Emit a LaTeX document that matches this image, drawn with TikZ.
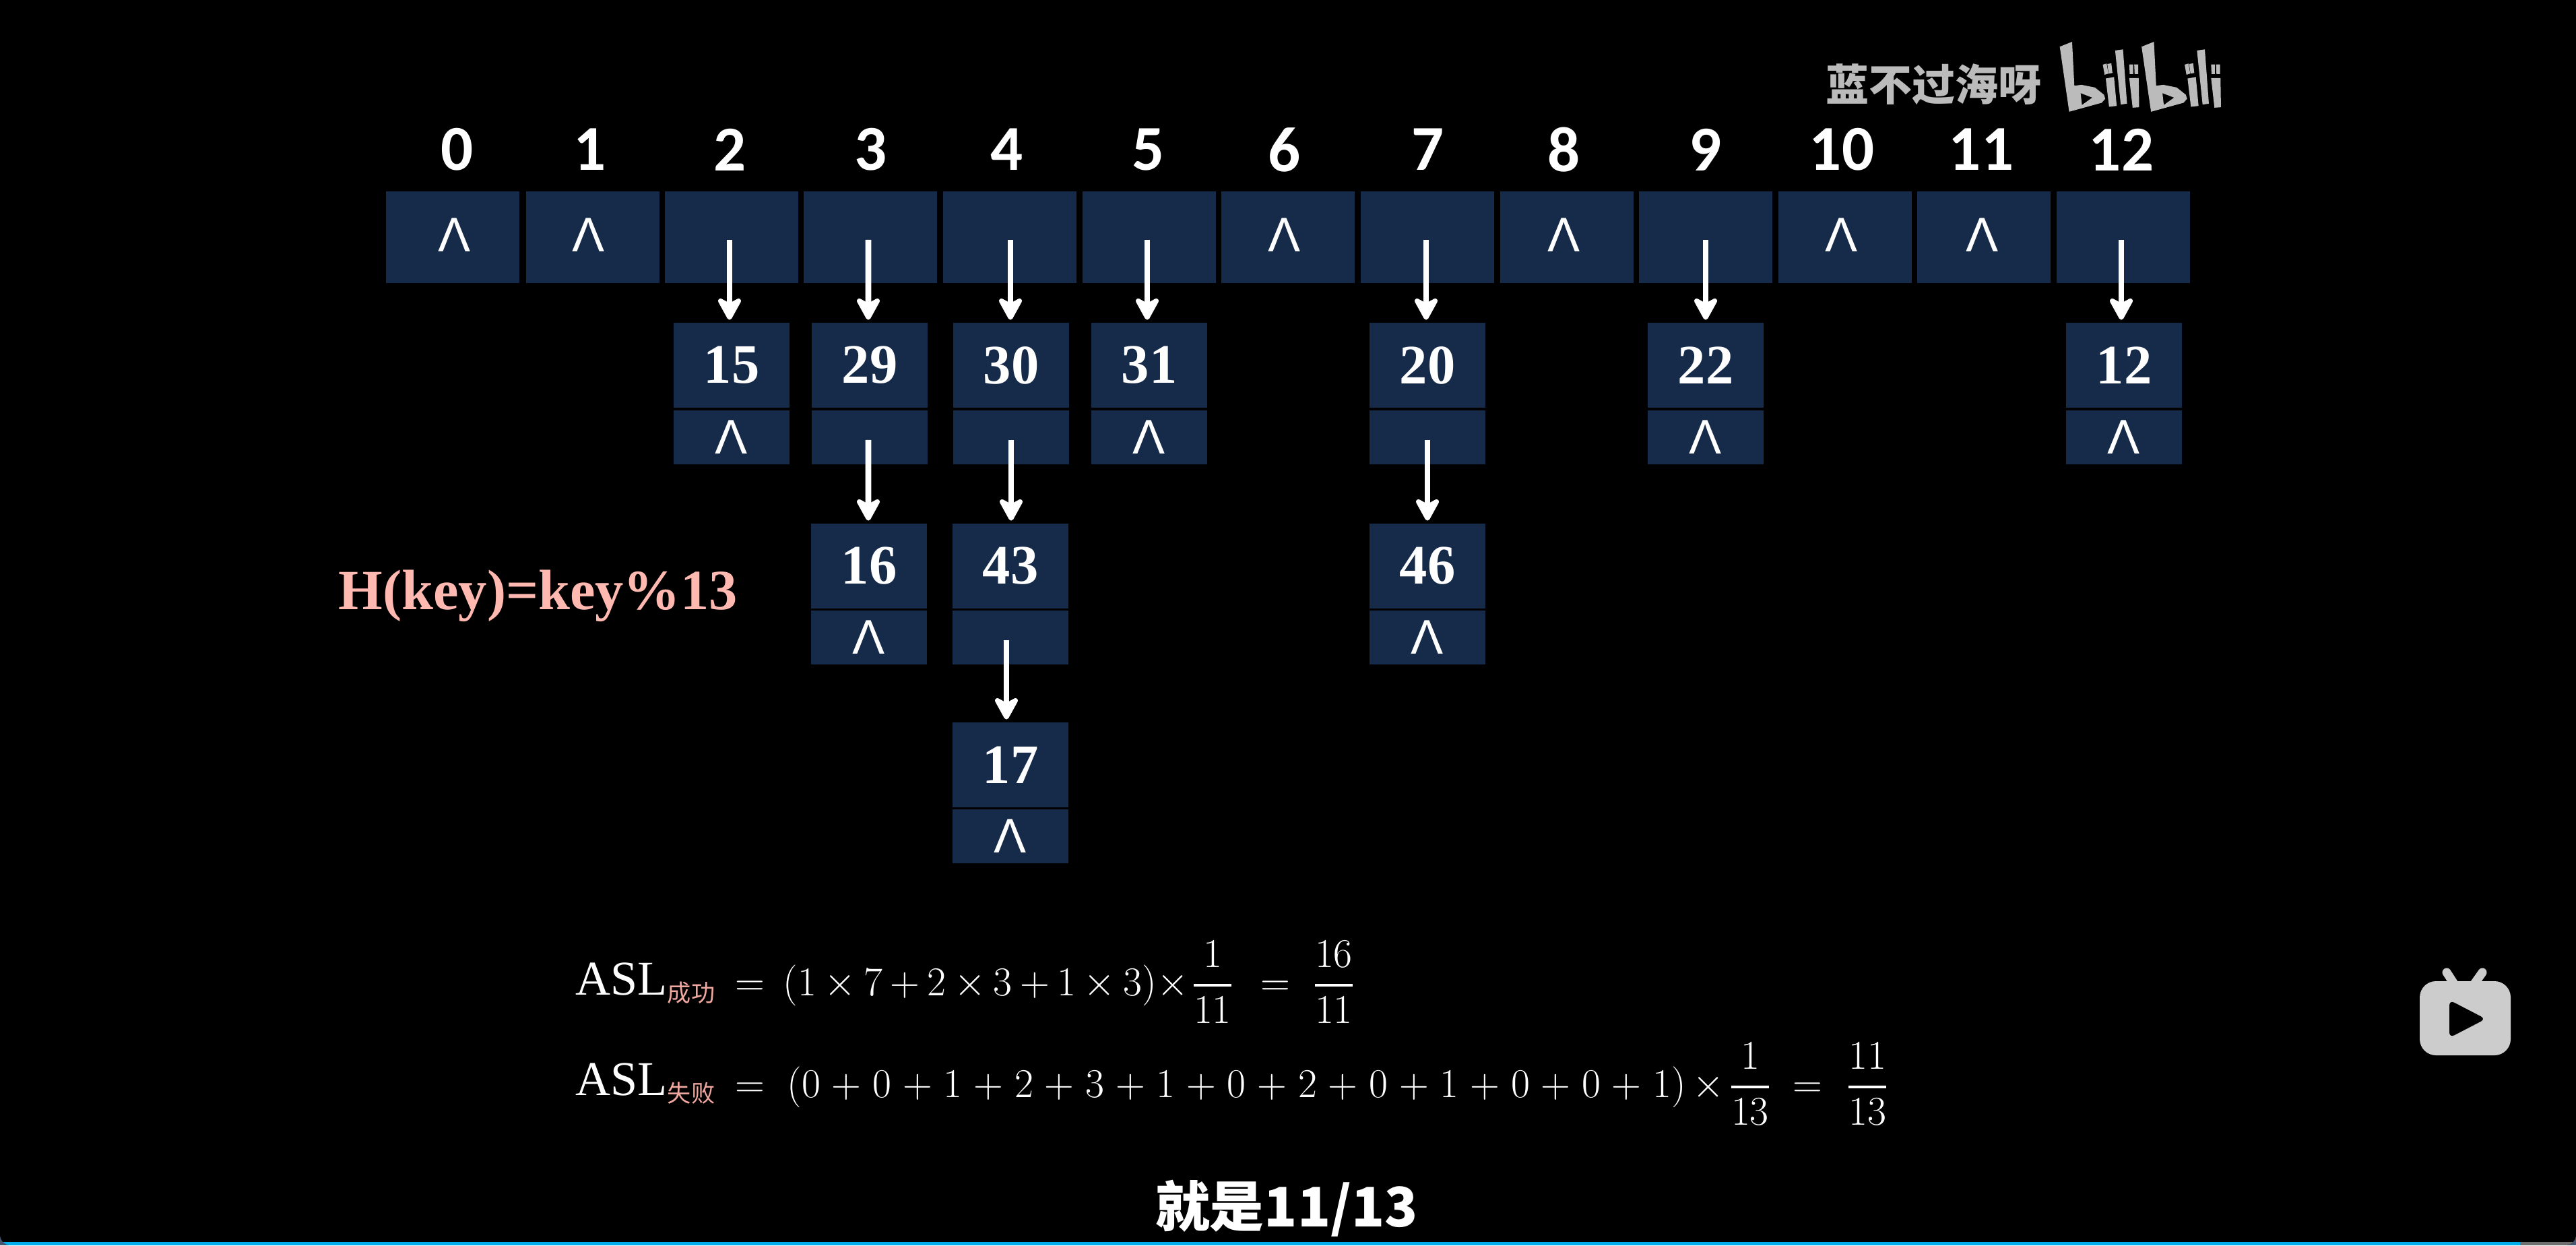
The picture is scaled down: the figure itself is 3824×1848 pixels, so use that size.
\documentclass[tikz,border=0pt]{standalone}
\usepackage[no-math]{fontspec}
\newfontfamily\valfont{Liberation Serif}
\newfontfamily\idxfont{Carlito}
\newfontfamily\lamfont{Liberation Sans}
\newfontfamily\cjkfont{Noto Sans CJK SC}
\usetikzlibrary{arrows.meta}
\definecolor{cellblue}{HTML}{162A4A}
\definecolor{keypink}{HTML}{FFB9B0}
\definecolor{subpink}{HTML}{F0A8A0}
\definecolor{barblue}{HTML}{00AEEC}
\definecolor{barrest}{HTML}{6E6E6E}
\definecolor{deskblue}{HTML}{465670}
\definecolor{wmgray}{HTML}{BBBBBB}
\newcommand\barfrac[2]{{\displaystyle{#1\above 1pt #2}}}
\tikzset{
 idx/.style={text=white,inner sep=0,font=\idxfont\bfseries\fontsize{27}{32}\selectfont},
 headcell/.style={fill=cellblue,inner sep=0,minimum width=1.98cm,minimum height=1.36cm},
 lam/.style={text=white,inner sep=0,font=\lamfont\fontsize{20.5}{25}\selectfont},
 keycell/.style={fill=cellblue,text=white,inner sep=0,minimum width=1.71cm,minimum height=1.25cm,font=\valfont\bfseries\fontsize{23.5}{28}\selectfont},
 nilcell/.style={fill=cellblue,text=white,inner sep=0,minimum width=1.71cm,minimum height=0.8cm,font=\lamfont\fontsize{20.5}{25}\selectfont},
 link/.style={draw=white,line width=2.5pt,shorten <=1.1pt,shorten >=1.2pt,-{Stealth[length=11.5pt,width=12.5pt,inset=3.4pt,round]}},
 asl/.style={text=white,inner sep=0,anchor=base west,font=\valfont\fontsize{20.5}{24}\selectfont},
 mth/.style={text=white,inner sep=0,anchor=base,font=\fontsize{17.28}{20}\selectfont},
 bilipart/.pic={
  \fill[wmgray,even odd rule] (53,58)--(108,36)--(118,232)--(150,228)--(210,240)--(250,272)--(256,290)--(240,308)--(95,348)--cycle
   (146,265)--(198,285)--(152,318)--cycle;
  \fill[wmgray] (245,138)--(262,133)--(270,178)--(253,183)--cycle;
  \fill[wmgray] (265,135)--(283,132)--(288,175)--(271,178)--cycle;
  \fill[wmgray] (258,200)--(295,193)--(307,322)--(273,326)--cycle;
  \fill[wmgray] (300,75)--(335,70)--(353,312)--(325,316)--cycle;
  \fill[wmgray] (363,137)--(380,137)--(380,180)--(365,180)--cycle;
  \fill[wmgray] (385,137)--(403,137)--(403,180)--(387,180)--cycle;
  \fill[wmgray] (363,198)--(405,198)--(407,328)--(378,330)--cycle;
 }
}
\begin{document}
\begin{tikzpicture}[x=0.01cm,y=-0.01cm]
\useasboundingbox (0,0) rectangle (3824,1848);
\fill[deskblue] (0,0) rectangle (3824,1848);
\begin{scope}
\clip (0,0) [rounded corners=0.16cm] -- (0,1848) -- (3824,1848) [sharp corners] -- (3824,0) -- cycle;
\fill[black] (0,0) rectangle (3824,1848);
\fill[barblue] (0,1843) rectangle (3741,1848);
\fill[barrest] (3741,1843) rectangle (3824,1848);
\end{scope}
% slot numbers
\node[idx] (i0) at (679,222) {0};
\node[idx] (i1) at (876,222) {1};
\node[idx] (i2) at (1084,222) {2};
\node[idx] (i3) at (1293,222) {3};
\node[idx] (i4) at (1495,222) {4};
\node[idx] (i5) at (1705,222) {5};
\node[idx] (i6) at (1907,222) {6};
\node[idx] (i7) at (2120,222) {7};
\node[idx] (i8) at (2322,222) {8};
\node[idx] (i9) at (2532,222) {9};
\node[idx] (i10) at (2734,222) {10};
\node[idx] (i11) at (2941,222) {11};
\node[idx] (i12) at (3149,222) {12};
% table row
\node[headcell] (h0) at (672,352) {};
\node[headcell] (h1) at (880,352) {};
\node[headcell] (h2) at (1086,352) {};
\node[headcell] (h3) at (1292,352) {};
\node[headcell] (h4) at (1499,352) {};
\node[headcell] (h5) at (1706,352) {};
\node[headcell] (h6) at (1912,352) {};
\node[headcell] (h7) at (2119,352) {};
\node[headcell] (h8) at (2326,352) {};
\node[headcell] (h9) at (2532,352) {};
\node[headcell] (h10) at (2739,352) {};
\node[headcell] (h11) at (2945,352) {};
\node[headcell] (h12) at (3152,352) {};
\node[lam] (l0) at (675,349) {Λ};
\node[lam] (l1) at (874,349) {Λ};
\node[lam] (l6) at (1907,349) {Λ};
\node[lam] (l8) at (2322,349) {Λ};
\node[lam] (l10) at (2734,349) {Λ};
\node[lam] (l11) at (2943,349) {Λ};
% chains
\node[keycell] (15) at (1086,542) {15};
\node[nilcell] (15n) at (1086,649) {Λ};
\node[keycell] (29) at (1291,542) {29};
\node[nilcell] (29n) at (1291,649) {};
\node[keycell] (30) at (1501,542) {30};
\node[nilcell] (30n) at (1501,649) {};
\node[keycell] (31) at (1706,542) {31};
\node[nilcell] (31n) at (1706,649) {Λ};
\node[keycell] (20) at (2119,542) {20};
\node[nilcell] (20n) at (2119,649) {};
\node[keycell] (22) at (2532,542) {22};
\node[nilcell] (22n) at (2532,649) {Λ};
\node[keycell] (12) at (3153,542) {12};
\node[nilcell] (12n) at (3153,649) {Λ};
\node[keycell] (16) at (1290,840) {16};
\node[nilcell] (16n) at (1290,946) {Λ};
\node[keycell] (43) at (1500,840) {43};
\node[nilcell] (43n) at (1500,946) {};
\node[keycell] (46) at (2119,840) {46};
\node[nilcell] (46n) at (2119,946) {Λ};
\node[keycell] (17) at (1500,1135) {17};
\node[nilcell] (17n) at (1500,1241) {Λ};
\draw[link] ([xshift=-0.03cm]h2.center)--([xshift=-0.03cm]15.north);
\draw[link] ([xshift=-0.03cm]h3.center)--([xshift=-0.02cm]29.north);
\draw[link] ([xshift=0.01cm]h4.center)--([xshift=-0.01cm]30.north);
\draw[link] ([xshift=-0.03cm]h5.center)--([xshift=-0.03cm]31.north);
\draw[link] ([xshift=-0.02cm]h7.center)--([xshift=-0.02cm]20.north);
\draw[link] (h9.center)--(22.north);
\draw[link] ([xshift=-0.03cm]h12.center)--([xshift=-0.04cm]12.north);
\draw[link] ([xshift=-0.02cm]29n.center)--([xshift=-0.01cm]16.north);
\draw[link] (30n.center)--([xshift=0.01cm]43.north);
\draw[link] (20n.center)--(46.north);
\draw[link] ([xshift=-0.06cm]43n.center)--([xshift=-0.06cm]17.north);
% hash function
\node[text=keypink,inner sep=0,anchor=base west,font=\valfont\bfseries\fontsize{24}{28}\selectfont] (hash) at (502,904) {H(key)=key\%13};
% first line
\node[asl] (asl1) at (854,1476) {ASL\raisebox{-3pt}{\cjkfont\fontsize{10}{12}\selectfont\color{subpink}成功}};
\node[mth] (eqa1) at (1113,1477) {$=$};
\node[mth,anchor=base west] (suma) at (1162,1477) {\medmuskip=3.4mu$(1\times7+2\times3+1\times3)$};
\node[mth] (tima) at (1741,1477) {$\times$};
\node[mth] (fra1) at (1800,1477) {$\barfrac{1}{11}$};
\node[mth] (eqa2) at (1893,1477) {$=$};
\node[mth] (fra2) at (1980,1477) {$\barfrac{16}{11}$};
% second line
\node[asl] (asl2) at (854,1625) {ASL\raisebox{-3pt}{\cjkfont\fontsize{10}{12}\selectfont\color{subpink}失败}};
\node[mth] (eqb1) at (1113,1628) {$=$};
\node[mth,anchor=base west] (sumb) at (1168,1628) {\medmuskip=5mu$(0+0+1+2+3+1+0+2+0+1+0+0+1)$};
\node[mth] (timb) at (2536,1628) {$\times$};
\node[mth] (frb1) at (2598,1628) {$\barfrac{1}{13}$};
\node[mth] (eqb2) at (2683,1628) {$=$};
\node[mth] (frb2) at (2772,1628) {$\barfrac{11}{13}$};
% subtitle
\node[text=white,inner sep=0,anchor=base,font=\cjkfont\bfseries\fontsize{23}{28}\selectfont] (subt) at (1910,1820) {就是11/13};
% watermark
\node[text=wmgray,inner sep=0,anchor=base,font=\cjkfont\bfseries\fontsize{18.2}{22}\selectfont] (wm) at (2870,149) {蓝不过海呀};
\begin{scope}[shift={(3040,50)},x=0.00333cm,y=-0.00333cm]
\pic at (0,0) {bilipart};
\pic at (365,0) {bilipart};
\end{scope}
% tv icon
\draw[line width=3.7pt,line cap=round,color=black!20] (3632,1443)--(3643,1460) (3685,1443)--(3673,1460);
\fill[black!20,rounded corners=0.24cm] (3592,1456) rectangle (3727,1566);
\fill[black,rounded corners=0.08cm] (3636,1484)--(3690,1512)--(3636,1540)--cycle;
\end{tikzpicture}
\end{document}
